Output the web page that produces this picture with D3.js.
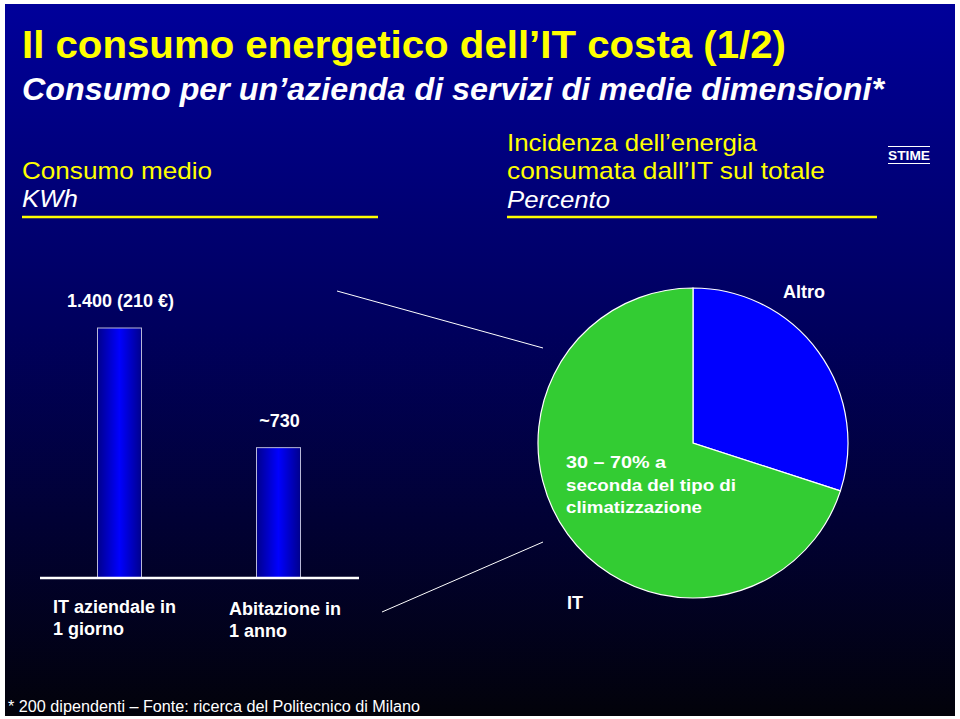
<!DOCTYPE html>
<html><head><meta charset="utf-8">
<script src="https://cdn.jsdelivr.net/npm/d3@7"></script>
<style>html,body{margin:0;padding:0;background:#fff;}svg{display:block;}</style>
</head><body>
<svg id="c" width="960" height="719"></svg>
<script>
// ---- data ----
const barCategories = ["IT aziendale in|1 giorno", "Abitazione in|1 anno"];
const barValues = [1400, 730];
const barLabels = ["1.400 (210 €)", "~730"];
const pieCategories = ["Altro", "IT"];
const pieValues = [30, 70];
const pieNote = ["30 – 70% a", "seconda del tipo di", "climatizzazione"];

const svg = d3.select("#c");
const defs = svg.append("defs");
const bg = defs.append("linearGradient").attr("id","bg").attr("x1",0).attr("y1",0).attr("x2",0).attr("y2",1);
bg.append("stop").attr("offset","0%").attr("stop-color","#00009a");
bg.append("stop").attr("offset","45%").attr("stop-color","#00005e");
bg.append("stop").attr("offset","100%").attr("stop-color","#02020a");
const bg2 = defs.append("linearGradient").attr("id","barg").attr("x1",0).attr("y1",0).attr("x2",1).attr("y2",0);
bg2.append("stop").attr("offset","0%").attr("stop-color","#00008c");
bg2.append("stop").attr("offset","50%").attr("stop-color","#0000ff");
bg2.append("stop").attr("offset","100%").attr("stop-color","#00008c");

svg.append("rect").attr("x",5).attr("y",4).attr("width",950).attr("height",712).attr("fill","url(#bg)");

const NARROW = "'Liberation Sans Narrow','Arial Narrow','Liberation Sans',Arial,sans-serif";
const SANS = "'Liberation Sans',Arial,sans-serif";

function txt(x,y,s,opt){
  const t = svg.append("text").attr("x",x).attr("y",y).text(s)
    .attr("font-family",opt.family||NARROW).attr("font-size",opt.size)
    .attr("fill",opt.fill||"#fff");
  if(opt.bold) t.attr("font-weight","bold");
  if(opt.italic) t.attr("font-style","italic");
  if(opt.len) t.attr("textLength",opt.len).attr("lengthAdjust","spacingAndGlyphs");
  if(opt.anchor) t.attr("text-anchor",opt.anchor);
  return t;
}

// header texts
txt(22,58,"Il consumo energetico dell’IT costa (1/2)",{size:39,bold:true,fill:"#ffff00",len:764});
txt(22,100,"Consumo per un’azienda di servizi di medie dimensioni*",{size:31,bold:true,italic:true,len:862});
txt(22,179,"Consumo medio",{size:24,fill:"#ffff00",len:190});
txt(22,207,"KWh",{size:24,italic:true,len:56});
txt(507,151,"Incidenza dell’energia",{size:24,fill:"#ffff00",len:250});
txt(507,179,"consumata dall’IT sul totale",{size:24,fill:"#ffff00",len:318});
txt(507,208,"Percento",{size:24,italic:true,len:103});
svg.append("line").attr("x1",22).attr("x2",378).attr("y1",217).attr("y2",217).attr("stroke","#ffff00").attr("stroke-width",2.5);
svg.append("line").attr("x1",507).attr("x2",877).attr("y1",217).attr("y2",217).attr("stroke","#ffff00").attr("stroke-width",2.5);
txt(888,160,"STIME",{size:13,bold:true,len:42});
svg.append("line").attr("x1",888).attr("x2",930).attr("y1",146.5).attr("y2",146.5).attr("stroke","#fff").attr("stroke-width",1);
svg.append("line").attr("x1",888).attr("x2",930).attr("y1",163.5).attr("y2",163.5).attr("stroke","#fff").attr("stroke-width",1);

// bars
const x = d3.scaleBand().domain(barCategories).range([40,358]).paddingInner(0.7233).paddingOuter(0.3616);
const y = d3.scaleLinear().domain([0,1400]).range([578,328]);
svg.selectAll("rect.bar").data(barCategories).enter().append("rect").attr("class","bar")
  .attr("x",d=>x(d)).attr("width",x.bandwidth())
  .attr("y",(d,i)=>y(barValues[i])).attr("height",(d,i)=>y(0)-y(barValues[i]))
  .attr("fill","url(#barg)").attr("stroke","#b8b8d8").attr("stroke-width",1);
svg.selectAll("text.bl").data(barCategories).enter().append("text").attr("class","bl")
  .attr("x",d=>x(d)+x.bandwidth()/2+1).attr("y",(d,i)=>y(barValues[i])-21)
  .attr("text-anchor","middle").attr("font-family",SANS).attr("font-weight","bold")
  .attr("font-size",18).attr("fill","#fff").text((d,i)=>barLabels[i]);
svg.append("line").attr("x1",40).attr("x2",359).attr("y1",y(0)).attr("y2",y(0)).attr("stroke","#fff").attr("stroke-width",2.5);
const catX = [53,229], catY=[613,615];
barCategories.forEach((c,i)=>{
  c.split("|").forEach((line,j)=>{
    txt(catX[i],catY[i]+j*22,line,{size:18,bold:true,family:SANS});
  });
});

// pie
const cx=693, cy=443, r=155;
const pie = d3.pie().sort(null).value(d=>d)(pieValues);
const arc = d3.arc().innerRadius(0).outerRadius(r);
const pieColors = ["#0000ff","#33cc33"];
const pg = svg.append("g").attr("transform",`translate(${cx},${cy})`);
pg.selectAll("path").data(pie).enter().append("path").attr("d",arc)
  .attr("fill",(d,i)=>pieColors[i]).attr("stroke","#fff").attr("stroke-width",1.2);
txt(783,298,pieCategories[0],{size:18,bold:true,family:SANS});
txt(567,609,pieCategories[1],{size:18,bold:true,family:SANS});
pieNote.forEach((s,i)=>txt(566,468+i*22.5,s,{size:17,bold:true,family:SANS,len:[100,170,136][i]}));

// connector lines
svg.append("line").attr("x1",337).attr("y1",291).attr("x2",543).attr("y2",348).attr("stroke","#fff").attr("stroke-width",1);
svg.append("line").attr("x1",382).attr("y1",612).attr("x2",543).attr("y2",542).attr("stroke","#fff").attr("stroke-width",1);

// footer
txt(8,712,"* 200 dipendenti – Fonte: ricerca del Politecnico di Milano",{size:16,len:412});
</script>
</body></html>
